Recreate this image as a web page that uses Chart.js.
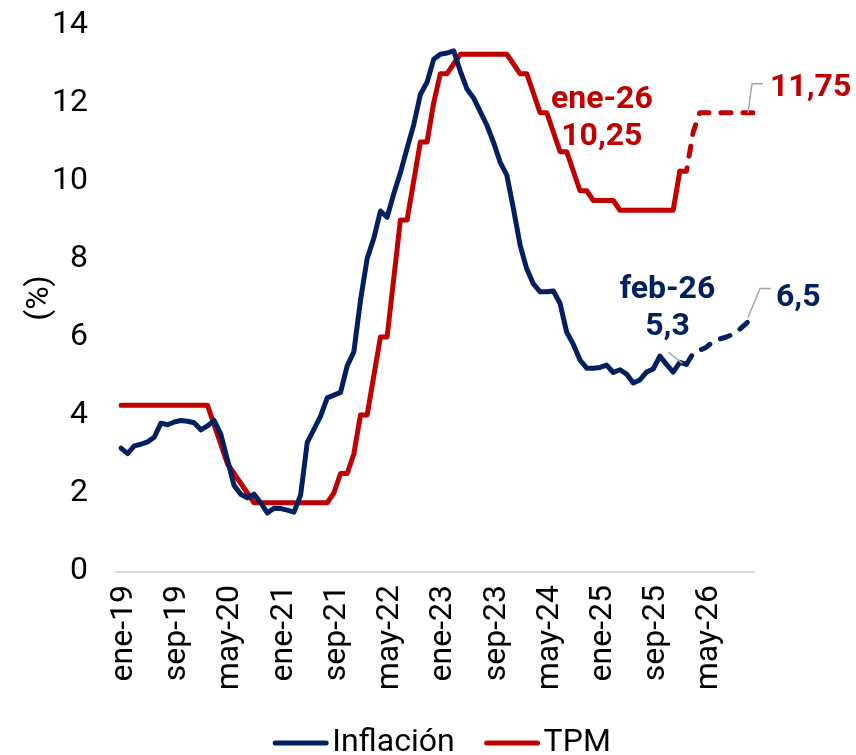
<!DOCTYPE html>
<html>
<head>
<meta charset="utf-8">
<script src="https://cdn.jsdelivr.net/npm/chart.js@4.4.1/dist/chart.umd.min.js"></script>
<style>
  html, body { margin: 0; padding: 0; background: #fff; }
  #wrap { width: 856px; height: 755px; }
</style>
</head>
<body>
<div id="wrap"><canvas id="chart" width="856" height="755"></canvas></div>
<script>
// meses ene-19 .. dic-26
const labels = [
  'ene-19','feb-19','mar-19','abr-19','may-19','jun-19','jul-19','ago-19','sep-19','oct-19','nov-19','dic-19',
  'ene-20','feb-20','mar-20','abr-20','may-20','jun-20','jul-20','ago-20','sep-20','oct-20','nov-20','dic-20',
  'ene-21','feb-21','mar-21','abr-21','may-21','jun-21','jul-21','ago-21','sep-21','oct-21','nov-21','dic-21',
  'ene-22','feb-22','mar-22','abr-22','may-22','jun-22','jul-22','ago-22','sep-22','oct-22','nov-22','dic-22',
  'ene-23','feb-23','mar-23','abr-23','may-23','jun-23','jul-23','ago-23','sep-23','oct-23','nov-23','dic-23',
  'ene-24','feb-24','mar-24','abr-24','may-24','jun-24','jul-24','ago-24','sep-24','oct-24','nov-24','dic-24',
  'ene-25','feb-25','mar-25','abr-25','may-25','jun-25','jul-25','ago-25','sep-25','oct-25','nov-25','dic-25',
  'ene-26','feb-26','mar-26','abr-26','may-26','jun-26','jul-26','ago-26','sep-26','oct-26','nov-26','dic-26'
];

// inflacion observada ene-19 .. feb-26
const inflacion = [
  3.15, 3.01, 3.21, 3.25, 3.31, 3.43, 3.79, 3.75, 3.82, 3.86, 3.84, 3.80,
  3.62, 3.72, 3.86, 3.51, 2.85, 2.19, 1.97, 1.88, 1.97, 1.75, 1.49, 1.61,
  1.60, 1.56, 1.51, 1.95, 3.30, 3.63, 3.97, 4.44, 4.51, 4.58, 5.26, 5.62,
  6.94, 8.01, 8.53, 9.23, 9.07, 9.67, 10.21, 10.84, 11.44, 12.22, 12.53, 13.12,
  13.25, 13.28, 13.34, 12.82, 12.36, 12.13, 11.78, 11.43, 10.99, 10.48, 10.15, 9.28,
  8.35, 7.74, 7.36, 7.16, 7.16, 7.18, 6.86, 6.12, 5.81, 5.41, 5.20, 5.20,
  5.22, 5.28, 5.09, 5.16, 5.05, 4.82, 4.90, 5.10, 5.18, 5.51, 5.30, 5.10,
  5.35, 5.3
];
// proyeccion feb-26 .. dic-26
const inflacionProy = [5.3, 5.58, 5.66, 5.74, 5.88, 5.95, 6.0, 6.07, 6.2, 6.35, 6.5];

// TPM observada ene-19 .. ene-26
const tpm = [
  4.25, 4.25, 4.25, 4.25, 4.25, 4.25, 4.25, 4.25, 4.25, 4.25, 4.25, 4.25,
  4.25, 4.25, 3.75, 3.25, 2.75, 2.50, 2.25, 2.00, 1.75, 1.75, 1.75, 1.75,
  1.75, 1.75, 1.75, 1.75, 1.75, 1.75, 1.75, 1.75, 2.00, 2.50, 2.50, 3.00,
  4.00, 4.00, 5.00, 6.00, 6.00, 7.50, 9.00, 9.00, 10.00, 11.00, 11.00, 12.00,
  12.75, 12.75, 13.00, 13.25, 13.25, 13.25, 13.25, 13.25, 13.25, 13.25, 13.25, 13.00,
  12.75, 12.75, 12.25, 11.75, 11.75, 11.25, 10.75, 10.75, 10.25, 9.75, 9.75, 9.50,
  9.50, 9.50, 9.50, 9.25, 9.25, 9.25, 9.25, 9.25, 9.25, 9.25, 9.25, 9.25,
  10.25
];
// proyeccion ene-26 .. dic-26
const tpmProy = [10.25, 10.25, 11.25, 11.75, 11.75, 11.75, 11.75, 11.75, 11.75, 11.75, 11.75, 11.75];

const NAVY = '#002060';
const RED = '#C00000';
const FONT = 'Roboto, "Liberation Sans", Arial, sans-serif';

function pad(values, start) {
  const out = new Array(labels.length).fill(null);
  values.forEach((v, i) => { out[start + i] = v; });
  return out;
}

function fmt(v) {
  return String(v).replace('.', ',');
}

const notes = [
  {ds: 2, idx: 84, date: true, color: RED, tx: -78, ty: [-71, -34], align: 'center'},
  {ds: 0, idx: 85, date: true, color: NAVY, tx: -19, ty: [-74, -37], align: 'center',
   leader: [[-4, -1], [-18, -12]]},
  {ds: 3, idx: 95, date: false, color: RED, tx: 17, ty: [-25], align: 'left',
   leader: [[-5, 0], [-1, -29], [10, -29]]},
  {ds: 1, idx: 95, date: false, color: NAVY, tx: 23, ty: [-20], align: 'left',
   leader: [[-5, 0], [7, -29], [18, -29]]}
];

const extras = {
  id: 'extras',
  beforeDatasetsDraw(chart) {
    const {ctx, chartArea: a} = chart;
    ctx.save();
    ctx.strokeStyle = '#D9D9D9';
    ctx.lineWidth = 2;
    ctx.beginPath();
    ctx.moveTo(a.left - 6, a.bottom + 1);
    ctx.lineTo(a.right + 2, a.bottom + 1);
    ctx.stroke();
    ctx.restore();
  },
  afterDatasetsDraw(chart) {
    const ctx = chart.ctx;
    ctx.save();
    for (const n of notes) {
      const pt = chart.getDatasetMeta(n.ds).data[n.idx];
      const val = chart.data.datasets[n.ds].data[n.idx];
      if (n.leader) {
        ctx.strokeStyle = '#A6A6A6';
        ctx.lineWidth = 1.5;
        ctx.beginPath();
        n.leader.forEach((p, i) => {
          if (i === 0) ctx.moveTo(pt.x + p[0], pt.y + p[1]);
          else ctx.lineTo(pt.x + p[0], pt.y + p[1]);
        });
        ctx.stroke();
      }
      const lines = n.date ? [labels[n.idx], fmt(val)] : [fmt(val)];
      ctx.fillStyle = n.color;
      ctx.font = 'bold 32px ' + FONT;
      ctx.textAlign = n.align;
      ctx.textBaseline = 'middle';
      lines.forEach((t, i) => ctx.fillText(t, pt.x + n.tx, pt.y + n.ty[i]));
    }

    // leyenda
    const items = [0, 2].map(i => chart.data.datasets[i]);
    ctx.font = '32px ' + FONT;
    ctx.textAlign = 'left';
    ctx.textBaseline = 'middle';
    const sample = 55, gap = 4, spacing = 30;
    let total = 0;
    items.forEach((d, i) => {
      total += sample + gap + ctx.measureText(d.label).width + (i ? 0 : spacing);
    });
    let x = 442 - total / 2;
    const y = 743;
    items.forEach(d => {
      ctx.strokeStyle = d.borderColor;
      ctx.lineWidth = 5;
      ctx.lineCap = 'round';
      ctx.beginPath();
      ctx.moveTo(x + 2, y);
      ctx.lineTo(x + sample - 2, y);
      ctx.stroke();
      ctx.fillStyle = '#000';
      ctx.fillText(d.label, x + sample + gap, y);
      x += sample + gap + ctx.measureText(d.label).width + spacing;
    });
    ctx.restore();
  }
};

const lineStyle = {
  borderWidth: 5,
  pointRadius: 0,
  pointHoverRadius: 0,
  tension: 0,
  fill: false,
  borderJoinStyle: 'round',
  borderCapStyle: 'round',
  spanGaps: false
};

const ctx = document.getElementById('chart').getContext('2d');
const myChart = new Chart(ctx, {
  type: 'line',
  data: {
    labels: labels,
    datasets: [
      Object.assign({label: 'Inflación', data: pad(inflacion, 0), borderColor: NAVY}, lineStyle),
      Object.assign({label: 'Inflación proy', data: pad(inflacionProy, 85), borderColor: NAVY,
        borderDash: [10, 12]}, lineStyle),
      Object.assign({label: 'TPM', data: pad(tpm, 0), borderColor: RED}, lineStyle),
      Object.assign({label: 'TPM proy', data: pad(tpmProy, 84), borderColor: RED,
        borderDash: [10, 12]}, lineStyle)
    ]
  },
  options: {
    responsive: false,
    animation: false,
    events: [],
    layout: {padding: {top: 25, right: 103, bottom: 0, left: 0}},
    plugins: {
      legend: {display: false},
      tooltip: {enabled: false}
    },
    scales: {
      x: {
        type: 'category',
        offset: false,
        grid: {display: false, drawTicks: false},
        border: {display: false},
        afterFit(scale) { scale.height = 184; },
        ticks: {
          autoSkip: false,
          minRotation: 90,
          maxRotation: 90,
          padding: 14,
          labelOffset: 3,
          color: '#000',
          font: {family: FONT, size: 32},
          callback(value, index) {
            return index % 8 === 0 ? labels[index] : '';
          }
        }
      },
      y: {
        min: 0,
        max: 14,
        grid: {display: false, drawTicks: false},
        border: {display: false},
        afterFit(scale) {
          scale.width = 121;
          scale.paddingTop = 0;
          scale.paddingBottom = 0;
        },
        ticks: {
          stepSize: 2,
          padding: 33,
          color: '#000',
          font: {family: FONT, size: 32}
        },
        title: {
          display: true,
          text: '(%)',
          color: '#000',
          font: {family: FONT, size: 32},
          padding: {top: 21, bottom: 0}
        }
      }
    }
  },
  plugins: [extras]
});
</script>
</body>
</html>
